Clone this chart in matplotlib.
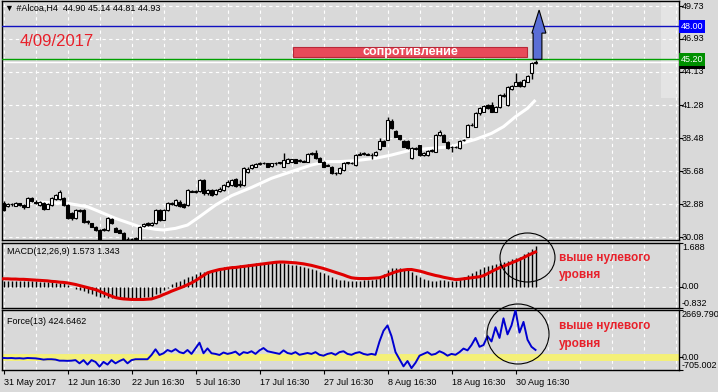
import numpy as np
import matplotlib.pyplot as plt
import matplotlib.transforms as mtransforms
from matplotlib.patches import Rectangle, Ellipse, Polygon

plt.rcParams['font.family'] = ['Liberation Sans', 'DejaVu Sans']

# -------------------------------------------
# Data (H4 bars, Alcoa)
# -------------------------------------------
title_text = "\u25bc #Alcoa,H4  44.90 45.14 44.81 44.93"
date_text = "4/09/2017"
macd_text = "MACD(12,26,9) 1.573 1.343"
force_text = "Force(13) 424.6462"
note_text = "выше нулевого"
note_text2 = "уровня"
zone_text = "сопротивление"

date_labels = ["31 May 2017", "12 Jun 16:30", "22 Jun 16:30", "5 Jul 16:30", "17 Jul 16:30",
               "27 Jul 16:30", "8 Aug 16:30", "18 Aug 16:30", "30 Aug 16:30"]
date_bars = [0, 16, 32, 48, 64, 80, 96, 112, 128]

price_ticks = [49.73, 46.93, 44.13, 41.28, 38.48, 35.68, 32.88, 30.08]
price_labels = ["49.73", "46.93", "44.13", "41.28", "38.48", "35.68", "32.88", "30.08"]
resistance = 48.00
level_green = 45.20
bid = 44.93

opens = [
    33.00, 32.72, 32.85, 32.75, 32.95, 32.80, 32.66, 33.37, 33.10, 32.80,
    32.95, 32.50, 32.80, 33.30, 33.30, 33.40, 32.80, 32.10, 31.67, 32.40,
    32.38, 31.45, 31.25, 30.96, 30.68, 30.70, 30.68, 31.60, 30.82, 30.68,
    30.45, 29.95, 29.90, 29.93, 29.83, 30.98, 31.30, 31.10, 31.25, 32.38,
    31.53, 32.38, 32.90, 32.80, 33.10, 32.90, 32.80, 34.00, 33.95, 34.00,
    34.90, 33.80, 34.10, 33.75, 34.00, 34.10, 34.40, 34.50, 34.99, 34.60,
    34.50, 35.65, 35.93, 36.07, 36.30, 36.35, 36.35, 36.13, 36.35, 36.40,
    36.07, 36.40, 36.50, 36.70, 36.55, 36.55, 36.50, 37.15, 37.26, 36.78,
    36.50, 36.15, 36.07, 35.55, 35.50, 35.79, 36.40, 36.40, 36.21, 37.10,
    37.15, 37.15, 37.10, 37.06, 37.60, 38.25, 38.34, 39.98, 39.13, 38.76,
    38.28, 38.28, 36.78, 37.60, 37.90, 37.10, 37.06, 37.40, 37.35, 38.76,
    38.76, 38.20, 37.70, 37.70, 37.63, 38.30, 38.62, 39.60, 39.47, 40.60,
    40.75, 41.31, 41.31, 40.75, 41.17, 42.10, 41.31, 42.64, 42.93, 43.29,
    42.93, 43.30, 44.06, 44.90]
highs = [
    33.15, 33.00, 33.00, 33.05, 33.00, 32.85, 33.50, 33.45, 33.20, 33.15,
    33.05, 33.00, 33.45, 33.75, 34.10, 33.45, 32.85, 32.20, 32.50, 32.45,
    32.45, 31.50, 31.30, 31.00, 30.75, 30.85, 31.75, 31.70, 30.90, 30.75,
    30.50, 30.05, 30.00, 30.05, 31.05, 31.30, 31.35, 31.35, 32.45, 32.45,
    32.45, 33.05, 33.10, 33.35, 33.20, 32.95, 34.20, 34.10, 34.10, 35.00,
    35.00, 34.20, 34.20, 34.20, 34.30, 34.60, 34.90, 35.00, 35.10, 34.90,
    36.00, 36.00, 36.30, 36.40, 36.45, 36.50, 36.40, 36.40, 36.45, 36.50,
    37.20, 36.80, 36.75, 36.75, 36.70, 36.60, 37.25, 37.30, 37.50, 36.85,
    36.55, 36.30, 36.15, 35.60, 36.00, 36.50, 36.50, 36.45, 37.15, 37.30,
    37.30, 37.25, 37.20, 37.40, 38.50, 38.30, 40.32, 40.10, 39.20, 38.80,
    38.35, 38.30, 37.70, 37.75, 37.95, 37.30, 37.50, 37.60, 38.85, 39.15,
    38.85, 38.25, 37.85, 37.80, 38.35, 38.45, 39.70, 39.75, 40.70, 41.15,
    41.35, 41.40, 41.55, 41.25, 42.25, 42.30, 42.90, 43.00, 44.00, 43.35,
    43.50, 43.85, 45.00, 45.14]
lows = [
    32.30, 32.65, 32.70, 32.70, 32.70, 32.50, 32.60, 33.10, 32.90, 32.70,
    32.40, 32.45, 32.75, 33.20, 33.20, 32.75, 31.60, 31.55, 31.60, 32.25,
    31.30, 31.20, 30.90, 30.60, 29.75, 30.60, 30.60, 31.20, 30.50, 30.40,
    29.75, 29.80, 29.80, 29.85, 29.75, 30.90, 31.00, 31.00, 31.20, 31.45,
    31.50, 32.30, 32.80, 32.75, 32.65, 32.55, 32.75, 33.90, 33.85, 33.90,
    33.70, 33.70, 33.60, 33.70, 33.90, 34.00, 34.30, 34.40, 34.35, 34.30,
    34.45, 35.55, 35.85, 36.00, 36.20, 36.30, 36.00, 36.05, 36.25, 36.30,
    36.00, 36.35, 36.45, 36.35, 36.50, 36.45, 36.45, 37.10, 36.70, 36.45,
    36.00, 36.10, 35.45, 35.40, 35.45, 35.70, 36.30, 36.30, 36.15, 37.05,
    37.10, 37.05, 36.70, 37.00, 37.50, 37.80, 38.30, 39.30, 38.55, 38.35,
    37.70, 37.55, 36.70, 37.50, 37.00, 37.00, 37.00, 37.35, 37.30, 38.70,
    38.15, 37.55, 37.30, 37.65, 37.60, 38.25, 38.55, 39.50, 39.40, 40.50,
    40.70, 40.95, 40.70, 40.70, 41.10, 42.00, 41.25, 42.55, 42.90, 42.85,
    42.85, 43.25, 43.50, 44.81]
closes = [
    32.40, 32.88, 32.90, 32.95, 32.80, 32.60, 33.37, 33.17, 33.00, 33.08,
    32.50, 32.90, 33.37, 33.65, 33.90, 32.80, 31.67, 31.67, 32.40, 32.32,
    31.39, 31.35, 30.96, 30.68, 29.83, 30.75, 31.67, 31.25, 30.54, 30.45,
    29.83, 29.90, 29.92, 29.97, 30.96, 31.15, 31.10, 31.25, 32.38, 31.53,
    32.38, 32.94, 32.98, 33.23, 32.72, 32.60, 34.08, 33.95, 34.00, 34.90,
    33.80, 34.10, 33.70, 34.10, 34.20, 34.50, 34.80, 34.94, 34.43, 34.50,
    35.93, 35.90, 36.20, 36.30, 36.35, 36.40, 36.07, 36.35, 36.38, 36.42,
    36.64, 36.70, 36.70, 36.40, 36.60, 36.50, 37.15, 37.20, 36.78, 36.50,
    36.07, 36.20, 35.50, 35.50, 35.93, 36.36, 36.42, 36.35, 37.06, 37.15,
    37.20, 37.10, 37.05, 37.35, 38.25, 37.85, 40.04, 39.33, 38.62, 38.40,
    37.77, 37.63, 37.63, 37.65, 37.06, 37.20, 37.43, 37.45, 38.76, 39.05,
    38.20, 37.63, 37.77, 37.75, 38.28, 38.35, 39.60, 39.65, 40.60, 41.03,
    41.23, 41.03, 40.75, 41.17, 42.16, 42.20, 42.81, 42.93, 43.29, 42.93,
    43.44, 43.78, 44.85, 44.93]

# white moving average, sampled at a few bars
ma_bars = [6, 12, 16, 21, 24, 28, 32, 34, 38, 40, 43, 46, 49, 53, 57, 62, 67,
           72, 77, 81, 84, 88, 93, 97, 102, 107, 112, 115, 118, 122, 125, 128, 131, 133]
ma_values = [33.10, 33.00, 32.95, 32.66, 32.24, 31.67, 31.20, 30.96, 30.74, 30.68,
             30.82, 31.10, 31.81, 32.80, 33.60, 34.30, 35.08, 35.65, 36.21, 36.50,
             36.50, 36.58, 36.78, 37.06, 37.49, 37.63, 37.77, 38.10, 38.39, 38.90,
             39.47, 40.32, 41.03, 41.74]

macd_main = [
    0.21, 0.21, 0.21, 0.21, 0.21, 0.21, 0.20, 0.20, 0.20, 0.19,
    0.18, 0.18, 0.17, 0.15, 0.14, 0.12, 0.05, -0.02, -0.08, -0.12,
    -0.17, -0.24, -0.30, -0.35, -0.39, -0.42, -0.43, -0.44, -0.44, -0.44,
    -0.45, -0.45, -0.45, -0.44, -0.43, -0.42, -0.40, -0.39, -0.30, -0.24,
    -0.14, -0.05, 0.10, 0.16, 0.21, 0.28, 0.36, 0.42, 0.50, 0.56,
    0.58, 0.60, 0.64, 0.69, 0.72, 0.75, 0.77, 0.78, 0.80, 0.82,
    0.85, 0.87, 0.88, 0.90, 0.92, 0.93, 0.94, 0.95, 0.94, 0.93,
    0.91, 0.88, 0.85, 0.82, 0.79, 0.76, 0.73, 0.68, 0.64, 0.58,
    0.53, 0.46, 0.38, 0.30, 0.27, 0.24, 0.22, 0.20, 0.21, 0.22,
    0.24, 0.25, 0.27, 0.30, 0.40, 0.50, 0.66, 0.72, 0.73, 0.72,
    0.68, 0.64, 0.55, 0.46, 0.38, 0.30, 0.24, 0.20, 0.22, 0.25,
    0.24, 0.20, 0.20, 0.22, 0.30, 0.36, 0.45, 0.53, 0.62, 0.69,
    0.76, 0.80, 0.84, 0.88, 0.92, 0.96, 1.00, 1.05, 1.10, 1.16,
    1.25, 1.35, 1.46, 1.573]
macd_signal = [
    0.30, 0.30, 0.29, 0.29, 0.28, 0.28, 0.27, 0.26, 0.25, 0.24,
    0.23, 0.22, 0.20, 0.19, 0.17, 0.16, 0.14, 0.11, 0.08, 0.04,
    0.00, -0.04, -0.08, -0.12, -0.18, -0.25, -0.31, -0.37, -0.43, -0.46,
    -0.48, -0.49, -0.50, -0.50, -0.50, -0.50, -0.49, -0.48, -0.43, -0.38,
    -0.31, -0.25, -0.18, -0.12, -0.06, 0.00, 0.07, 0.14, 0.23, 0.33,
    0.43, 0.53, 0.58, 0.62, 0.66, 0.68, 0.71, 0.73, 0.74, 0.76,
    0.78, 0.80, 0.82, 0.84, 0.86, 0.88, 0.90, 0.92, 0.94, 0.95,
    0.95, 0.94, 0.93, 0.92, 0.90, 0.88, 0.85, 0.82, 0.78, 0.74,
    0.70, 0.65, 0.60, 0.55, 0.50, 0.45, 0.39, 0.34, 0.32, 0.31,
    0.31, 0.31, 0.32, 0.33, 0.34, 0.39, 0.45, 0.51, 0.57, 0.61,
    0.64, 0.66, 0.66, 0.63, 0.60, 0.56, 0.51, 0.47, 0.43, 0.40,
    0.36, 0.33, 0.30, 0.27, 0.28, 0.30, 0.32, 0.34, 0.36, 0.38,
    0.42, 0.50, 0.58, 0.66, 0.73, 0.79, 0.85, 0.92, 0.98, 1.05,
    1.12, 1.20, 1.27, 1.343]
force = [
    -30, -40, -30, -50, -40, -60, -30, -40, -50, -80,
    -120, -100, -100, -120, -180, -180, -190, -180, -150, -330,
    -150, -400, -150, -250, -515, -250, -400, -150, -330, -200,
    -100, -330, -150, -100, -100, -100, -100, 140, 460, 140,
    235, 420, 330, 470, 300, 236, 420, 200, 510, 830,
    236, 510, 236, 200, 140, 280, 200, 250, 330, 140,
    300, 250, 350, 200, 400, 530, 350, 300, 250, 200,
    400, 250, 200, 300, 150, 200, 250, 200, 300, 150,
    100, 200, 250, 150, 300, 350, 200, 150, 250, 300,
    200, 150, 200, 150, 900, 1500, 1800, 1200, 300, -100,
    -500, -200, -600, -300, 100, 200, 300, 150, 200, 350,
    250, 100, 200, 150, 300, 500, 400, 700, 1100, 600,
    700, 1200, 900, 1700, 1100, 2200, 1300, 1800, 2669.79, 1400,
    2000, 1000, 600, 424.6462]

macd_range = (-0.832, 1.688)
force_range = (-705.002, 2669.790)

# -------------------------------------------
# Layout (pixels of a 718x392 image)
# -------------------------------------------
W, H = 718, 392
BG = '#d9d9d9'
LEFT, RIGHT = 2, 679
X0, X1 = (LEFT - 3.5) / 4, (RIGHT - 3.5) / 4

fig = plt.figure(figsize=(W / 100, H / 100), dpi=100)
fig.patch.set_facecolor(BG)


def panel(top, bottom):
    ax = fig.add_axes([LEFT / W, 1 - bottom / H, (RIGHT - LEFT) / W, (bottom - top) / H])
    ax.set_facecolor(BG)
    ax.set_xlim(X0, X1)
    for s in ax.spines.values():
        s.set_color('black')
        s.set_linewidth(1)
    ax.set_xticks([])
    ax.yaxis.tick_right()
    ax.tick_params(axis='y', direction='out', length=3, width=0.8, labelright=False)
    for b in range(0, 169, 8):
        ax.axvline(b, color='white', lw=0.8, ls=(0, (3, 3)), zorder=0)
    return ax


def right_label(ax, value, text, va='center', **kw):
    tr = mtransforms.blended_transform_factory(ax.transAxes, ax.transData)
    ax.text(1 + 3 / (RIGHT - LEFT), value, text, transform=tr, va=va, ha='left',
            fontsize=6.5, clip_on=False, **kw)


# ---------------- main price panel ----------------
ax = panel(1, 240)
ax.set_ylim(29.83, 50.16)
ax.set_yticks(price_ticks)
for p in price_ticks:
    ax.axhline(p, color='white', lw=0.8, ls=(0, (3, 3)), zorder=0)
for p, t in zip(price_ticks, price_labels):
    right_label(ax, p, t)

# light strip at the top right corner of the price window
ax.add_patch(Rectangle((X1 - 18 / 4, 41.9), 18 / 4, 8.3, facecolor='#e4e4e4',
                       edgecolor='none', zorder=-1))

idx = np.arange(len(closes))
o = np.array(opens)
c = np.array(closes)
up = c >= o
body_lo = np.minimum(o, c)
body_h = np.maximum(np.abs(c - o), 0.03)

ax.plot(ma_bars, ma_values, color='white', lw=2.2, zorder=2, solid_capstyle='butt')
ax.vlines(idx, lows, highs, color='black', lw=1, zorder=3)
ax.bar(idx[up], body_h[up], bottom=body_lo[up], width=0.6, color='white',
       edgecolor='black', lw=0.8, zorder=4)
ax.bar(idx[~up], body_h[~up], bottom=body_lo[~up], width=0.6, color='black',
       edgecolor='black', lw=0.8, zorder=4)

ax.axhline(resistance, color='#1010c0', lw=1, zorder=5)
ax.axhline(level_green, color='#00a000', lw=1, zorder=5)
ax.axhline(bid, color='white', lw=1, zorder=1)

# resistance zone
ax.add_patch(Rectangle((72.4, 45.37), 58.5, 0.90, facecolor='#e84a5a',
                       edgecolor='#b82838', lw=0.8, zorder=6))
ax.text(101.6, 45.84, zone_text, color='white', fontsize=9, fontweight='bold',
        ha='center', va='center', zorder=7)

# blue up arrow
arrow = [(132.4, 45.2), (134.6, 45.2), (134.6, 47.43), (135.6, 47.43),
         (133.9, 49.39), (132.1, 47.43), (132.4, 47.43)]
ax.add_patch(Polygon(arrow, closed=True, facecolor='#5a6ed6', edgecolor='black',
                     lw=0.8, zorder=8))

tr = mtransforms.blended_transform_factory(ax.transAxes, ax.transData)
ax.text(1 + 2 / (RIGHT - LEFT), bid, "44.93", transform=tr, va='center', ha='left',
        fontsize=6.5, color='white', clip_on=False,
        bbox=dict(boxstyle='square,pad=0.2', fc='black', ec='none'))
ax.text(1 + 2 / (RIGHT - LEFT), level_green, "45.20", transform=tr, va='center', ha='left',
        fontsize=6.5, color='white', clip_on=False,
        bbox=dict(boxstyle='square,pad=0.2', fc='#009000', ec='none'))
ax.text(1 + 2 / (RIGHT - LEFT), resistance, "48.00", transform=tr, va='center', ha='left',
        fontsize=6.5, color='white', clip_on=False,
        bbox=dict(boxstyle='square,pad=0.2', fc='#0000ff', ec='none'))

# ---------------- MACD panel ----------------
ax2 = panel(243, 308)
ax2.set_ylim(*macd_range)
ax2.set_yticks([macd_range[1], 0, macd_range[0]])
ax2.axhline(0, color='white', lw=0.8, ls=(0, (3, 3)), zorder=0)
ax2.vlines(idx, 0, macd_main, color='black', lw=1, zorder=2)
ax2.plot(idx, macd_signal, color='#e00000', lw=2.2, zorder=3)
right_label(ax2, macd_range[1], "1.688", va='top')
right_label(ax2, 0, "0.00")
right_label(ax2, macd_range[0], "-0.832", va='bottom')

# ---------------- Force panel ----------------
ax3 = panel(310, 370)
ax3.set_ylim(*force_range)
ax3.set_yticks([force_range[1], 0, force_range[0]])
ax3.axhline(0, color='#f4f078', lw=5, zorder=1)
ax3.plot(idx, force, color='#0000d0', lw=1.4, zorder=3)
right_label(ax3, force_range[1], "2669.790", va='top')
right_label(ax3, 0, "0.00")
right_label(ax3, force_range[0], "-705.002", va='bottom')
ax3.set_xticks(date_bars)
ax3.set_xticklabels(date_labels, ha='left', fontsize=6.5)
ax3.tick_params(axis='x', direction='out', length=3, width=0.8, pad=3)

# ---------------- texts and circles ----------------
fig.text(5 / W, 1 - 8 / H, title_text, fontsize=6.5, va='center', ha='left')
fig.text(20 / W, 1 - 42 / H, date_text, fontsize=12, color='#e8202a', va='center', ha='left')
fig.text(7 / W, 1 - 252 / H, macd_text, fontsize=6.5, va='center', ha='left')
fig.text(7 / W, 1 - 321 / H, force_text, fontsize=6.5, va='center', ha='left')

red = '#e8202a'
for y1, y2 in [(258, 275), (326, 344)]:
    fig.text(559 / W, 1 - y1 / H, note_text, fontsize=8.5, fontweight='bold', color=red,
             va='center', ha='left')
    fig.text(559 / W, 1 - y2 / H, note_text2, fontsize=8.5, fontweight='bold', color=red,
             va='center', ha='left')

for cx, cy, w, h in [(527.5, 257.5, 55, 49), (518, 334, 62, 60)]:
    fig.add_artist(Ellipse((cx / W, 1 - cy / H), w / W, h / H, transform=fig.transFigure,
                           fill=False, edgecolor='black', lw=0.8))

plt.savefig('out.png', dpi=100, facecolor=BG)
